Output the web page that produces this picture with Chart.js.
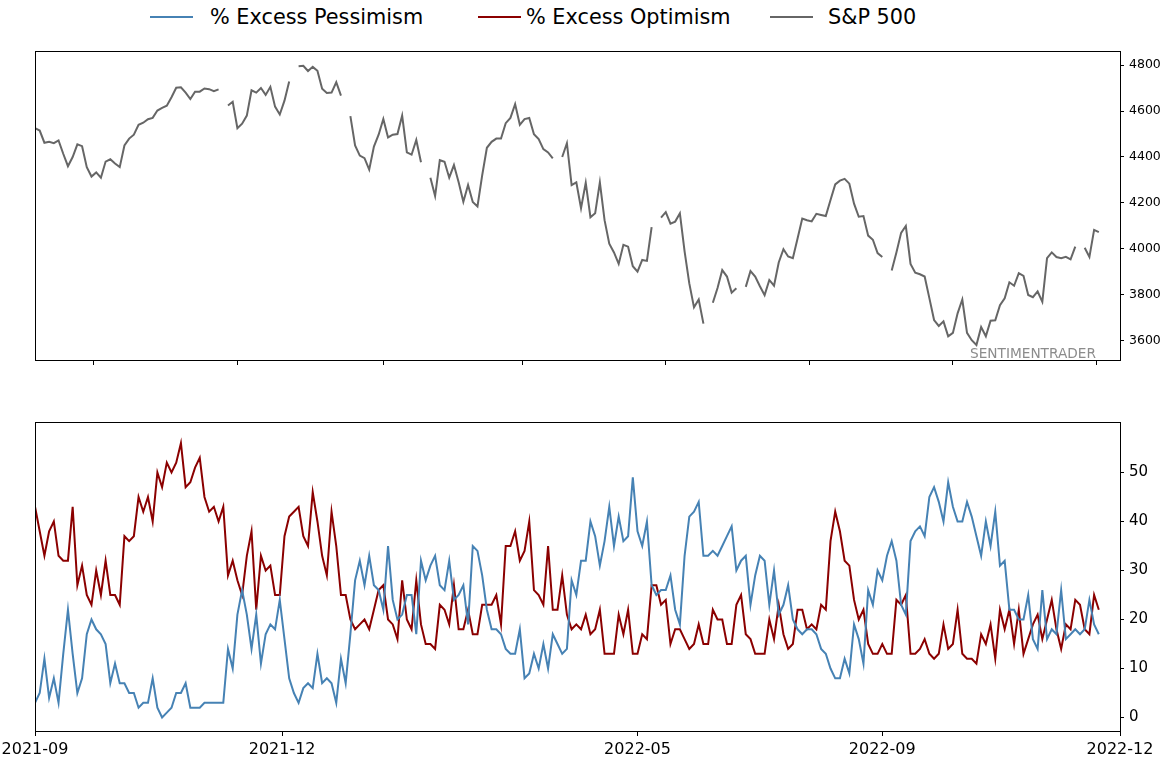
<!DOCTYPE html>
<html>
<head>
<meta charset="utf-8">
<script src="https://cdn.jsdelivr.net/npm/chart.js@4.4.1/dist/chart.umd.min.js"></script>
<style>
  html, body { margin: 0; padding: 0; background: #fff; }
  #wrap { position: relative; width: 1164px; height: 759px; font-family: 'DejaVu Sans', sans-serif; }
  .box { position: absolute; left: 0; width: 1164px; }
  .lg-line { position: absolute; top: 16px; height: 2px; width: 43px; }
  .lg-text { position: absolute; top: 4px; line-height: 26px; font-size: 20.8px; color: #000; white-space: nowrap; }
</style>
</head>
<body>
<div id="wrap">
  <div class="lg-line" style="left:150px;background:#4682b4"></div>
  <div class="lg-text" style="left:210px">% Excess Pessimism</div>
  <div class="lg-line" style="left:478px;background:#8b0000"></div>
  <div class="lg-text" style="left:526px">% Excess Optimism</div>
  <div class="lg-line" style="left:770px;background:#666666"></div>
  <div class="lg-text" style="left:828px">S&amp;P 500</div>
  <div class="box" style="top:0;height:380px"><canvas id="spxChart"></canvas></div>
  <div class="box" style="top:380px;height:379px"><canvas id="sentChart"></canvas></div>
</div>
<script>
// === DATA ===
// one sample every 2 calendar days, starting 2021-09-06
const START_DATE = '2021-09-06';
const STEP_DAYS = 2;

const spx = [
  4525, 4515, 4462, 4466, 4460, 4472, 4414, 4360, 4400, 4455, 4447, 4356, 4315, 4333, 4310, 4380, 4390, 4372, 4356, 4450,
  4480, 4497, 4540, 4549, 4564, 4570, 4602, 4614, 4623, 4660, 4701, 4703, 4680, 4652, 4684, 4684, 4698, 4695, 4686, 4694,
  null, 4624, 4640, 4525, 4545, 4580, 4690, 4680, 4700, 4670, 4705, 4619, 4585, 4645, 4728, null, 4795, 4797, 4774, 4792,
  4775, 4697, 4678, 4680, 4725, 4667, null, 4578, 4450, 4406, 4395, 4345, 4445, 4497, 4565, 4485, 4497, 4500, 4580, 4420,
  4410, 4474, 4377, null, 4310, 4230, 4386, 4379, 4310, 4365, 4290, 4205, 4278, 4204, 4185, 4320, 4440, 4466, 4480, 4480,
  4547, 4570, 4630, 4540, 4565, 4570, 4499, 4478, 4434, 4420, 4394, null, 4400, 4460, 4278, 4290, 4177, 4288, 4138, 4155,
  4290, 4125, 4023, 3985, 3935, 4018, 4010, 3925, 3901, 3952, 3948, 4095, null, 4136, 4160, 4110, 4119, 4155, 3990, 3850,
  3746, 3780, 3675, null, 3766, 3830, 3908, 3880, 3810, 3829, null, 3835, 3904, 3880, 3838, 3799, 3865, 3840, 3941, 3999,
  3967, 3960, 4045, 4132, 4125, 4120, 4153, 4148, 4143, 4213, 4281, 4297, 4305, 4284, 4197, 4140, 4143, 4058, 4040, 3982,
  3965, null, 3906, 3985, 4070, 4100, 3935, 3897, 3890, 3880, 3786, 3691, 3665, 3685, 3620, 3635, 3720, 3780, 3635, 3603,
  3582, 3660, 3620, 3688, 3690, 3755, 3785, 3855, 3840, 3895, 3883, 3800, 3790, 3815, 3770, 3960, 3985, 3965, 3960, 3966,
  3955, 4010, null, 4005, 3965, 4083, 4073
];

const pessimism = [
  3, 5, 12, 4, 8, 3, 13, 22, 13, 5, 8, 17, 20, 18, 17, 15, 7, 11, 7, 7,
  5, 5, 2, 3, 3, 8, 2, 0, 1, 2, 5, 5, 7, 2, 2, 2, 3, 3, 3, 3,
  3, 14, 10, 21, 26, 21, 14, 21, 11, 17, 19, 18, 24, 16, 8, 5, 3, 6, 7, 6,
  13, 7, 8, 7, 3, 12, 7, 17, 28, 32, 27, 33, 27, 26, 22, 35, 24, 20, 21, 25,
  25, 17, 32, 28, 31, 33, 27, 26, 32, 24, 25, 27, 19, 35, 34, 29, 22, 18, 18, 17,
  14, 13, 13, 18, 8, 9, 13, 10, 15, 10, 17, 15, 13, 14, 28, 25, 32, 32, 40, 37,
  31, 36, 43, 35, 41, 36, 37, 49, 38, 35, 40, 27, 25, 26, 26, 29, 22, 19, 33, 41,
  42, 44, 33, 33, 34, 33, 35, 37, 39, 30, 32, 33, 23, 29, 33, 32, 23, 30, 21, 23,
  27, 20, 18, 17, 18, 18, 17, 14, 13, 10, 8, 8, 12, 9, 19, 16, 11, 26, 23, 30,
  28, 33, 36, 32, 23, 21, 36, 38, 39, 37, 45, 47, 44, 40, 48, 43, 40, 40, 44, 41,
  37, 33, 40, 35, 42, 31, 32, 22, 22, 20, 20, 25, 16, 14, 26, 16, 18, 17, 26, 16,
  17, 18, 17, 18, 24, 19, 17
];

const optimism = [
  43, 38, 33, 38, 40, 33, 32, 32, 43, 27, 31, 25, 23, 30, 25, 32, 25, 25, 23, 37,
  36, 37, 45, 42, 45, 40, 50, 47, 52, 50, 52, 56, 47, 48, 51, 53, 45, 42, 43, 40,
  43, 29, 32, 28, 25, 33, 38, 22, 33, 30, 31, 25, 25, 37, 41, 42, 43, 37, 35, 46,
  40, 33, 29, 42, 35, 25, 25, 20, 18, 19, 20, 18, 22, 26, 27, 20, 19, 16, 28, 20,
  18, 28, 19, 15, 15, 14, 23, 22, 19, 27, 18, 18, 22, 17, 17, 23, 23, 23, 25, 19,
  35, 35, 38, 32, 34, 40, 26, 25, 23, 35, 22, 22, 29, 21, 18, 19, 18, 21, 17, 18,
  22, 13, 13, 13, 21, 17, 22, 13, 13, 17, 16, 27, 27, 23, 24, 15, 18, 18, 16, 14,
  15, 19, 15, 15, 22, 20, 20, 15, 15, 23, 25, 17, 16, 13, 13, 13, 20, 16, 23, 17,
  14, 15, 22, 22, 18, 19, 18, 23, 22, 36, 42, 38, 32, 31, 24, 20, 22, 15, 13, 13,
  15, 13, 13, 24, 23, 25, 13, 13, 14, 16, 13, 12, 13, 19, 14, 15, 22, 13, 12, 12,
  11, 17, 15, 19, 12, 22, 18, 22, 15, 22, 13, 16, 19, 21, 16, 20, 24, 18, 14, 19,
  18, 24, 23, 18, 17, 25, 22
];

const topTickDates = ['2021-10-01', '2021-12-01', '2022-02-01', '2022-04-01', '2022-06-01', '2022-08-01', '2022-10-01', '2022-12-01'];
const bottomTickDates = ['2021-09-06', '2021-12-20', '2022-05-20', '2022-09-01', '2022-12-11'];
const bottomTickLabels = ['2021-09', '2021-12', '2022-05', '2022-09', '2022-12'];
const axisEndDate = '2022-12-11';
const spxTicks = [3600, 3800, 4000, 4200, 4400, 4600, 4800];
const pctTicks = [0, 10, 20, 30, 40, 50];

// === HELPERS ===
const DAY = 86400000;
const dayOf = s => (Date.parse(s) - Date.parse(START_DATE)) / DAY;
const toPoints = arr => arr.map((v, i) => ({ x: i * STEP_DAYS, y: v }));
const setTicks = vals => scale => { scale.ticks = vals.map(v => ({ value: v })); };

Chart.defaults.font.family = "'DejaVu Sans', sans-serif";
Chart.defaults.color = '#000';

const framePlugin = {
    id: 'frame',
    afterDraw(chart, args, opts) {
        const { ctx, chartArea: a } = chart;
        ctx.save();
        ctx.strokeStyle = '#000';
        ctx.lineWidth = 1;
        ctx.strokeRect(a.left + 0.5, a.top + 0.5, a.right - a.left, a.bottom - a.top);
        if (opts.watermark) {
            ctx.fillStyle = '#8c8c8c';
            ctx.font = "13.7px 'DejaVu Sans'";
            ctx.textAlign = 'right';
            ctx.textBaseline = 'alphabetic';
            ctx.fillText(opts.watermark, a.right - 24, a.bottom - 2);
        }
        ctx.restore();
    }
};

const lineDs = (label, values, color) => ({
    label, data: toPoints(values), borderColor: color, borderWidth: 2,
    pointRadius: 0, tension: 0, spanGaps: false, fill: false
});

const baseX = (tickDates, height) => ({
    type: 'linear', min: 0, max: dayOf(axisEndDate),
    afterBuildTicks: setTicks(tickDates.map(dayOf)),
    // fixed height, and no extra side padding for the edge labels
    afterFit: s => { s.height = height; s.paddingLeft = 0; s.paddingRight = 0; },
    grid: { drawOnChartArea: false, tickLength: 5, color: '#000', lineWidth: 1 },
    border: { display: false }
});

const baseY = (min, max, ticks, size) => ({
    position: 'right', min, max,
    afterBuildTicks: setTicks(ticks),
    afterFit: s => { s.width = 44; s.paddingTop = 0; s.paddingBottom = 0; },
    grid: { drawOnChartArea: false, tickLength: 4, color: '#000', lineWidth: 1 },
    border: { display: false },
    ticks: { font: { size }, padding: 5, color: '#000', callback: v => String(v) }
});

// === S&P 500 PANEL ===
new Chart(document.getElementById('spxChart'), {
    type: 'line',
    data: { datasets: [lineDs('S&P 500', spx, '#666666')] },
    options: {
        responsive: true, maintainAspectRatio: false, animation: false,
        layout: { padding: { left: 35, top: 51, right: 0, bottom: 0 } },
        plugins: { legend: { display: false }, tooltip: { enabled: false }, frame: { watermark: 'SENTIMENTRADER' } },
        scales: {
            x: { ...baseX(topTickDates, 20), ticks: { display: false } },
            y: baseY(3517, 4861, spxTicks, 12.5)
        }
    },
    plugins: [framePlugin]
});

// === SENTIMENT PANEL ===
new Chart(document.getElementById('sentChart'), {
    type: 'line',
    data: {
        datasets: [
            lineDs('% Excess Pessimism', pessimism, '#4682b4'),
            lineDs('% Excess Optimism', optimism, '#8b0000')
        ]
    },
    options: {
        responsive: true, maintainAspectRatio: false, animation: false,
        layout: { padding: { left: 35, top: 42, right: 0, bottom: 0 } },
        plugins: { legend: { display: false }, tooltip: { enabled: false }, frame: {} },
        scales: {
            x: {
                ...baseX(bottomTickDates, 28),
                ticks: { font: { size: 16 }, padding: 4, color: '#000', maxRotation: 0, autoSkip: false,
                         callback: (v, i) => bottomTickLabels[i] }
            },
            y: baseY(-2.75, 60.3, pctTicks, 15)
        }
    },
    plugins: [framePlugin]
});
</script>
</body>
</html>
